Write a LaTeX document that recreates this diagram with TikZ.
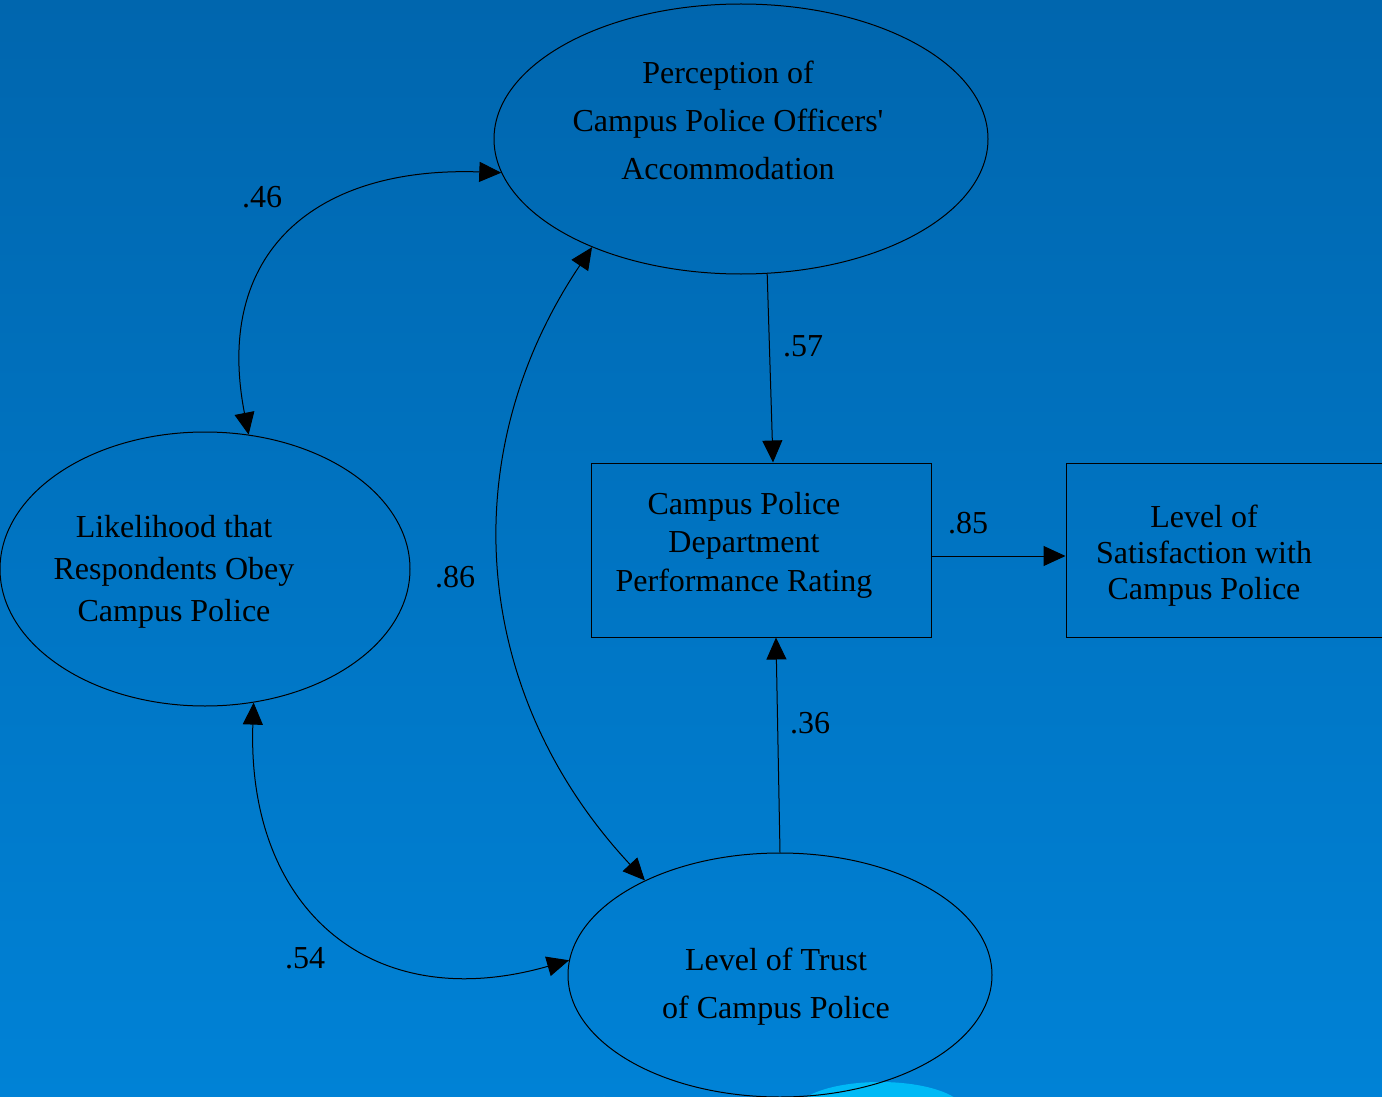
\documentclass[tikz,border=0pt]{standalone}
\usepackage{fontspec}
\setmainfont{Liberation Serif}
\usetikzlibrary{arrows.meta,shapes.geometric}

\definecolor{bgtop}{RGB}{0,102,174}
\definecolor{bgbot}{RGB}{0,130,214}
\definecolor{glow}{RGB}{0,200,255}

\begin{document}
\begin{tikzpicture}[x=0.5pt,y=-0.5pt,
  >={Triangle[length=11pt,width=10pt]},
  oval/.style={draw, ellipse, line width=0.5pt, inner sep=0pt},
  box/.style={draw, rectangle, line width=0.5pt, inner sep=0pt},
  txt/.style={align=center, inner sep=0pt},
  val/.style={inner sep=0pt, font=\fontsize{16}{18}\selectfont},
  link/.style={line width=0.5pt}]
\useasboundingbox (0,0) rectangle (1382,1097);
\shade[top color=bgtop, bottom color=bgbot] (0,0) rectangle (1382,1097);
\draw[white, opacity=0.06, line width=5pt] (600,1097) arc[start angle=180, end angle=20, x radius=330, y radius=110];
\draw[white, opacity=0.06, line width=4pt] (1190,1097) arc[start angle=180, end angle=60, x radius=190, y radius=90];
\fill[glow, opacity=0.8] (880,1112) ellipse (85 and 30);

\node[oval, minimum width=247pt, minimum height=135pt] (perc) at (741,139) {};
\node[oval, minimum width=205pt, minimum height=137pt] (obey) at (205,569) {};
\node[oval, minimum width=212pt, minimum height=122pt] (trust) at (780,975) {};
\node[box, minimum width=170pt, minimum height=87pt] (dept) at (761,550) {};
\node[box, minimum width=158pt, minimum height=87pt] (sat) at (1224,550) {};

\node[txt, font=\fontsize{16}{24}\selectfont] (percText) at (728,120) {Perception of\\Campus Police Officers\textquotesingle\\Accommodation};
\node[txt, font=\fontsize{16}{21}\selectfont] (obeyText) at (174,572) {Likelihood that\\Respondents Obey\\Campus Police};
\node[txt, font=\fontsize{16}{24}\selectfont] (trustText) at (776,987) {Level of Trust\\of Campus Police};
\node[txt, font=\fontsize{16}{19.25}\selectfont] (deptText) at (744,545) {Campus Police\\Department\\Performance Rating};
\node[txt, font=\fontsize{16}{18}\selectfont] (satText) at (1204,556) {Level of\\Satisfaction with\\Campus Police};

\draw[link,->] (perc.281.6) -- ([xshift=6pt]dept.north);
\draw[link,->] (trust.90) -- ([xshift=7.5pt]dept.south);
\draw[link,->] ([yshift=-3pt]dept.east) -- ([yshift=-3pt]sat.west);
\draw[link,<->] (obey.72.6) .. controls +(-35.5,-182.6) and +(-185.9,-6.5) .. (perc.188);
\draw[link,<->] (obey.290.2) .. controls +(-7.2,205.9) and +(-198,56.8) .. (trust.176);
\draw[link,<->] (perc.216.3) .. controls +(-141,210) and +(-172.5,-185) .. (trust.145.3);

\node[val] (v46) at (262,197) {.46};
\node[val] (v57) at (803,346) {.57};
\node[val] (v85) at (968,523) {.85};
\node[val] (v86) at (455,577) {.86};
\node[val] (v36) at (810,723) {.36};
\node[val] (v54) at (305,958) {.54};
\end{tikzpicture}
\end{document}
